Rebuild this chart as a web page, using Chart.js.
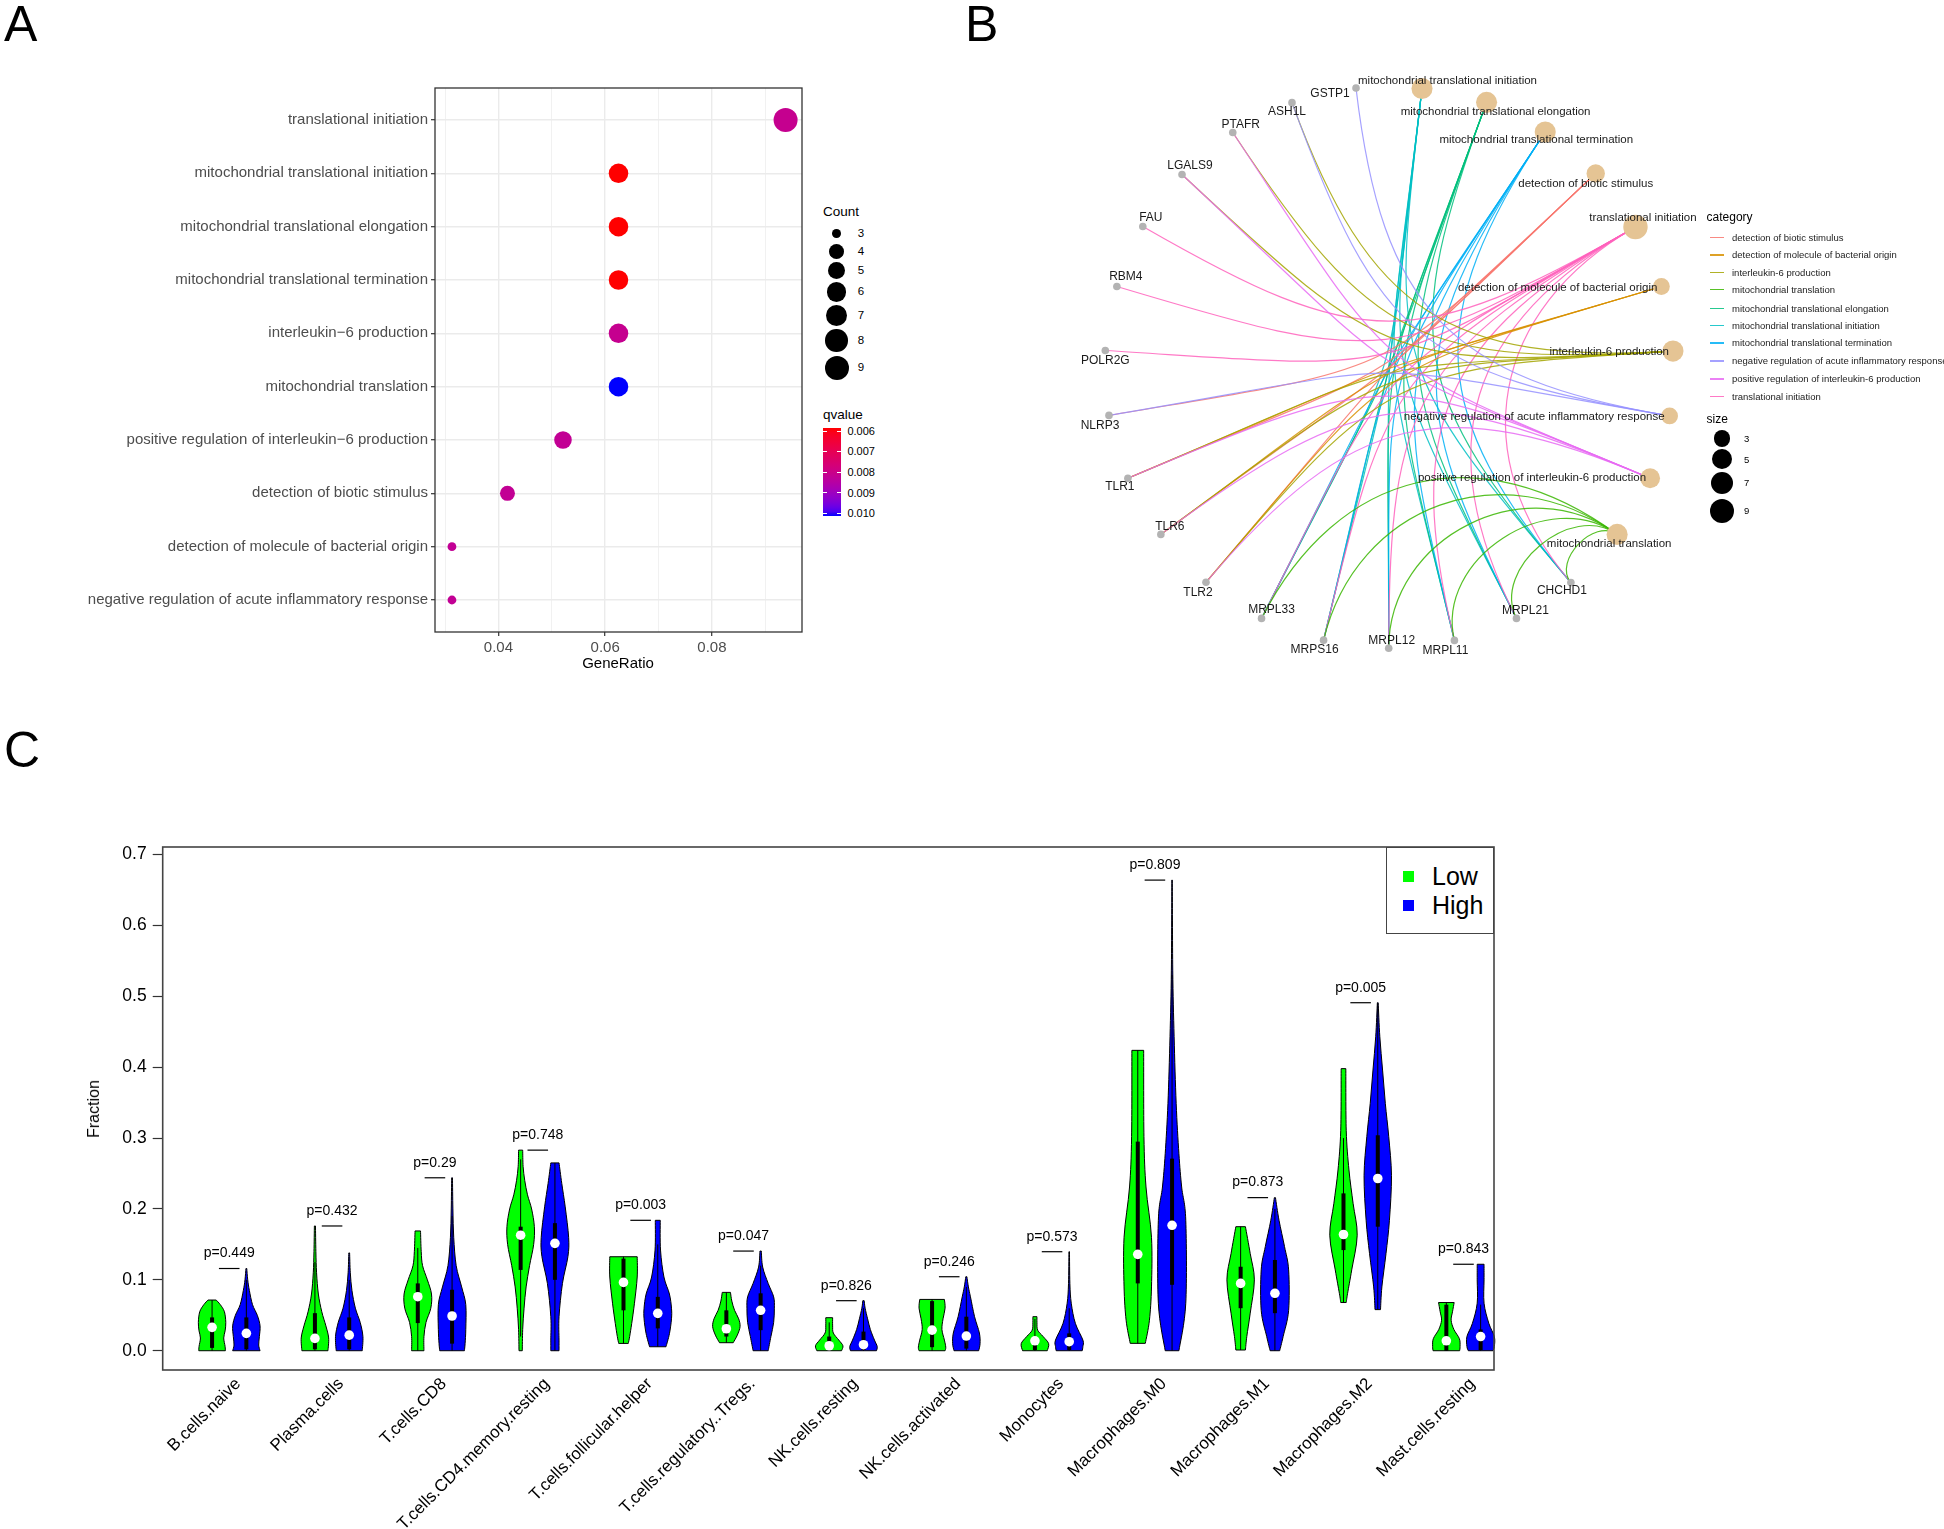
<!DOCTYPE html>
<html>
<head>
<meta charset="utf-8">
<title>GO enrichment and immune infiltration</title>
<script src="https://cdn.jsdelivr.net/npm/chart.js@4.4.1/dist/chart.umd.min.js"></script>
<style>
  html, body { margin: 0; padding: 0; background: #fff; }
  body { position: relative; width: 1944px; height: 1529px; overflow: hidden; font-family: "Liberation Sans", Arial, sans-serif; color: #000; }
  canvas { position: absolute; }
  .t { position: absolute; white-space: nowrap; line-height: 1; }
  .dot { position: absolute; border-radius: 50%; }
</style>
</head>
<body>
<canvas id="chartA" width="820" height="690" style="left:0;top:0"></canvas>
<canvas id="chartB" width="944" height="690" style="left:1000px;top:40px"></canvas>
<canvas id="chartC" width="1520" height="769" style="left:0;top:760px"></canvas>

<div class="t" style="left:4px;top:-1px;font-size:50px">A</div>
<div class="t" style="left:965px;top:-1px;font-size:50px">B</div>
<div class="t" style="left:4px;top:725px;font-size:50px">C</div>

<script>
// ---------- Panel A: GO dot plot ----------
const goTerms = [
  'translational initiation',
  'mitochondrial translational initiation',
  'mitochondrial translational elongation',
  'mitochondrial translational termination',
  'interleukin\u22126 production',
  'mitochondrial translation',
  'positive regulation of interleukin\u22126 production',
  'detection of biotic stimulus',
  'detection of molecule of bacterial origin',
  'negative regulation of acute inflammatory response'
];
const geneRatio = [0.0938, 0.0625, 0.0625, 0.0625, 0.0625, 0.0625, 0.0521, 0.0417, 0.0313, 0.0313];
const geneCount = [9, 6, 6, 6, 6, 6, 5, 4, 3, 3];
const qValue = [0.0081, 0.00584, 0.00584, 0.00584, 0.0081, 0.01012, 0.0082, 0.0082, 0.0082, 0.0082];
const ratioTicks = [0.03, 0.04, 0.05, 0.06, 0.07, 0.08, 0.09];
const countTicks = [3, 4, 5, 6, 7, 8, 9];
const qTicks = [0.006, 0.007, 0.008, 0.009, 0.010];

// ---------- Panel B: gene-concept network ----------
const genes = ['GSTP1', 'ASH1L', 'PTAFR', 'LGALS9', 'FAU', 'RBM4', 'POLR2G', 'NLRP3', 'TLR1', 'TLR6', 'TLR2',
  'MRPL33', 'MRPS16', 'MRPL12', 'MRPL11', 'MRPL21', 'CHCHD1'];
const geneX = [-0.117, -0.344, -0.554, -0.734, -0.873, -0.965, -1.006, -0.993, -0.926, -0.809, -0.649,
  -0.452, -0.232, -0.001, 0.232, 0.452, 0.645];
const geneY = [0.993, 0.941, 0.835, 0.686, 0.502, 0.289, 0.062, -0.168, -0.391, -0.590, -0.760,
  -0.888, -0.965, -0.994, -0.966, -0.888, -0.761];
const categories = [
  'mitochondrial translational initiation',
  'mitochondrial translational elongation',
  'mitochondrial translational termination',
  'detection of biotic stimulus',
  'translational initiation',
  'detection of molecule of bacterial origin',
  'interleukin-6 production',
  'negative regulation of acute inflammatory response',
  'positive regulation of interleukin-6 production',
  'mitochondrial translation'
];
const catX = [0.117, 0.346, 0.554, 0.733, 0.874, 0.966, 1.007, 0.995, 0.926, 0.809];
const catY = [0.991, 0.942, 0.837, 0.690, 0.500, 0.289, 0.060, -0.170, -0.391, -0.590];
const catGenes = [
  ['MRPL33', 'MRPS16', 'MRPL12', 'MRPL11', 'MRPL21', 'CHCHD1'],
  ['MRPL33', 'MRPS16', 'MRPL12', 'MRPL11', 'MRPL21', 'CHCHD1'],
  ['MRPL33', 'MRPS16', 'MRPL12', 'MRPL11', 'MRPL21', 'CHCHD1'],
  ['NLRP3', 'TLR1', 'TLR6', 'TLR2'],
  ['FAU', 'RBM4', 'POLR2G', 'MRPL33', 'MRPS16', 'MRPL12', 'MRPL11', 'MRPL21', 'CHCHD1'],
  ['TLR1', 'TLR6', 'TLR2'],
  ['ASH1L', 'PTAFR', 'LGALS9', 'TLR1', 'TLR6', 'TLR2'],
  ['GSTP1', 'ASH1L', 'NLRP3'],
  ['PTAFR', 'LGALS9', 'TLR1', 'TLR6', 'TLR2'],
  ['MRPL33', 'MRPS16', 'MRPL12', 'MRPL11', 'MRPL21', 'CHCHD1']
];
const sizeTicks = [3, 5, 7, 9];

// ---------- Panel C: violin plot ----------
const cellTypes = ['B.cells.naive', 'Plasma.cells', 'T.cells.CD8', 'T.cells.CD4.memory.resting',
  'T.cells.follicular.helper', 'T.cells.regulatory..Tregs.', 'NK.cells.resting', 'NK.cells.activated',
  'Monocytes', 'Macrophages.M0', 'Macrophages.M1', 'Macrophages.M2', 'Mast.cells.resting'];
const pValues = [0.449, 0.432, 0.29, 0.748, 0.003, 0.047, 0.826, 0.246, 0.573, 0.809, 0.873, 0.005, 0.843];
const fractionTicks = [0, 0.1, 0.2, 0.3, 0.4, 0.5, 0.6, 0.7];

// each shape: [value, relative half width] from top to bottom
const lowShape = [
  [[0.0715, 0.3], [0.065, 0.6], [0.055, 0.9], [0.04, 1.0], [0.028, 0.95], [0.018, 0.85], [0.006, 0.95], [0, 0.97]],
  [[0.176, 0.04], [0.14, 0.07], [0.11, 0.12], [0.08, 0.25], [0.055, 0.5], [0.035, 0.8], [0.018, 1.0], [0, 0.95]],
  [[0.169, 0.2], [0.14, 0.25], [0.12, 0.35], [0.1, 0.7], [0.08, 1.0], [0.06, 0.95], [0.04, 0.6], [0.02, 0.45], [0, 0.45]],
  [[0.283, 0.15], [0.26, 0.18], [0.24, 0.3], [0.22, 0.5], [0.2, 0.8], [0.175, 1.0], [0.15, 0.95], [0.12, 0.65], [0.09, 0.4], [0.06, 0.25], [0.03, 0.15], [0, 0.12]],
  [[0.1326, 1.0], [0.104, 1.0], [0.067, 0.8], [0.0386, 0.6], [0.02, 0.45], [0.0103, 0.35]],
  [[0.0823, 0.3], [0.07, 0.4], [0.057, 0.6], [0.045, 0.9], [0.034, 1.0], [0.022, 0.8], [0.0113, 0.5]],
  [[0.0466, 0.25], [0.035, 0.25], [0.025, 0.3], [0.015, 0.7], [0.007, 1.0], [0, 0.9]],
  [[0.0724, 0.9], [0.06, 0.95], [0.045, 0.8], [0.03, 0.72], [0.015, 0.9], [0.005, 1.0], [0, 0.95]],
  [[0.048, 0.15], [0.04, 0.15], [0.029, 0.2], [0.02, 0.6], [0.01, 1.0], [0, 0.9]],
  [[0.4238, 0.43], [0.302, 0.45], [0.231, 0.6], [0.16, 1.0], [0.09, 1.0], [0.043, 0.85], [0.0104, 0.55]],
  [[0.175, 0.35], [0.137, 0.7], [0.1, 1.0], [0.053, 0.7], [0.02, 0.45], [0.001, 0.35]],
  [[0.398, 0.17], [0.311, 0.2], [0.255, 0.4], [0.208, 0.7], [0.163, 1.0], [0.114, 0.6], [0.081, 0.3], [0.068, 0.2]],
  [[0.068, 0.57], [0.055, 0.45], [0.043, 0.35], [0.03, 0.55], [0.017, 0.95], [0.006, 1.0], [0, 0.97]]
];
const lowMedian = [0.033, 0.0174, 0.0762, 0.163, 0.0964, 0.031, 0.007, 0.029, 0.014, 0.136, 0.095, 0.164, 0.014];
const lowQ1 = [0.004, 0.002, 0.039, 0.114, 0.057, 0.02, 0, 0.005, 0.001, 0.095, 0.06, 0.142, 0];
const lowQ3 = [0.047, 0.053, 0.095, 0.175, 0.13, 0.057, 0.02, 0.07, 0.019, 0.295, 0.1185, 0.222, 0.065];
const lowWhiskerLo = [0, 0, 0, 0.02, 0.0103, 0.0113, 0, 0, 0, 0.0104, 0.001, 0.068, 0];
const lowWhiskerHi = [0.0715, 0.125, 0.145, 0.27, 0.1326, 0.0823, 0.04, 0.0724, 0.045, 0.4238, 0.175, 0.3, 0.068];

const highShape = [
  [[0.116, 0.03], [0.1, 0.1], [0.085, 0.22], [0.065, 0.45], [0.05, 0.8], [0.035, 1.0], [0.02, 0.95], [0.008, 0.9], [0, 1.0]],
  [[0.138, 0.03], [0.11, 0.08], [0.085, 0.2], [0.06, 0.45], [0.04, 0.8], [0.02, 1.0], [0, 0.95]],
  [[0.244, 0.03], [0.2, 0.06], [0.16, 0.12], [0.12, 0.3], [0.09, 0.7], [0.065, 1.0], [0.03, 1.0], [0.01, 0.95], [0, 0.9]],
  [[0.265, 0.3], [0.236, 0.5], [0.203, 0.75], [0.16, 1.0], [0.133, 0.95], [0.095, 0.55], [0.048, 0.3], [0.015, 0.3], [0, 0.3]],
  [[0.184, 0.18], [0.142, 0.2], [0.104, 0.45], [0.08, 0.85], [0.06, 1.0], [0.045, 1.0], [0.024, 0.85], [0.0056, 0.6]],
  [[0.1406, 0.05], [0.118, 0.15], [0.095, 0.55], [0.076, 0.95], [0.06, 1.0], [0.04, 0.95], [0.02, 0.75], [0, 0.55]],
  [[0.0706, 0.05], [0.06, 0.12], [0.045, 0.3], [0.03, 0.5], [0.015, 0.8], [0.006, 1.0], [0, 0.95]],
  [[0.1044, 0.04], [0.09, 0.15], [0.076, 0.3], [0.048, 0.6], [0.025, 0.95], [0.01, 1.0], [0, 0.9]],
  [[0.1397, 0.02], [0.095, 0.05], [0.067, 0.15], [0.0386, 0.45], [0.015, 1.0], [0.006, 1.0], [0, 0.95]],
  [[0.664, 0.02], [0.537, 0.05], [0.443, 0.15], [0.349, 0.3], [0.278, 0.5], [0.231, 0.7], [0.184, 1.0], [0.067, 1.0], [0, 0.5]],
  [[0.216, 0.04], [0.184, 0.3], [0.147, 0.7], [0.114, 1.0], [0.057, 1.0], [0.02, 0.6], [0, 0.35]],
  [[0.491, 0.03], [0.443, 0.15], [0.396, 0.35], [0.349, 0.55], [0.302, 0.8], [0.247, 1.0], [0.184, 0.85], [0.137, 0.6], [0.09, 0.3], [0.058, 0.2]],
  [[0.122, 0.25], [0.1, 0.25], [0.067, 0.25], [0.0386, 0.6], [0.02, 1.0], [0.006, 1.0], [0, 0.9]]
];
const highMedian = [0.0245, 0.022, 0.049, 0.1515, 0.0527, 0.057, 0.0085, 0.0207, 0.0127, 0.177, 0.081, 0.243, 0.02];
const highQ1 = [0.002, 0.002, 0.01, 0.1, 0.0315, 0.029, 0.001, 0.003, 0.001, 0.093, 0.053, 0.175, 0.001];
const highQ3 = [0.047, 0.047, 0.086, 0.18, 0.076, 0.081, 0.027, 0.048, 0.0245, 0.271, 0.128, 0.304, 0.03];
const highWhiskerLo = [0, 0, 0, 0, 0.0056, 0, 0, 0, 0, 0, 0, 0.058, 0];
const highWhiskerHi = [0.1, 0.1, 0.19, 0.265, 0.15, 0.12, 0.06, 0.09, 0.06, 0.53, 0.2, 0.49, 0.065];

// ---------- shared helpers ----------
const FONT = '"Liberation Sans", Arial, sans-serif';
Chart.defaults.font.family = FONT;
Chart.defaults.animation = false;

function hexToRgb(h) { return [1, 3, 5].map(i => parseInt(h.slice(i, i + 2), 16)); }
function toLab(rgb) {
  const [r, g, b] = rgb.map(c => { c /= 255; return c <= 0.04045 ? c / 12.92 : Math.pow((c + 0.055) / 1.055, 2.4); });
  const X = (0.4124 * r + 0.3576 * g + 0.1805 * b) / 0.95047;
  const Y = 0.2126 * r + 0.7152 * g + 0.0722 * b;
  const Z = (0.0193 * r + 0.1192 * g + 0.9505 * b) / 1.08883;
  const f = t => t > 0.008856 ? Math.cbrt(t) : 7.787 * t + 16 / 116;
  return [116 * f(Y) - 16, 500 * (f(X) - f(Y)), 200 * (f(Y) - f(Z))];
}
function fromLab([L, a, b]) {
  const fy = (L + 16) / 116, fx = fy + a / 500, fz = fy - b / 200;
  const inv = t => t * t * t > 0.008856 ? t * t * t : (t - 16 / 116) / 7.787;
  const X = 0.95047 * inv(fx), Y = inv(fy), Z = 1.08883 * inv(fz);
  const lin = [3.2406 * X - 1.5372 * Y - 0.4986 * Z, -0.9689 * X + 1.8758 * Y + 0.0415 * Z, 0.0557 * X - 0.2040 * Y + 1.0570 * Z];
  return lin.map(c => {
    c = c <= 0.0031308 ? 12.92 * c : 1.055 * Math.pow(c, 1 / 2.4) - 0.055;
    return Math.round(Math.max(0, Math.min(1, c)) * 255);
  });
}
function mixLab(c1, c2, t) {
  const a = toLab(hexToRgb(c1)), b = toLab(hexToRgb(c2));
  const [r, g, bl] = fromLab(a.map((v, i) => v + (b[i] - v) * t));
  return `rgb(${r},${g},${bl})`;
}

function frame(color, width) {
  return {
    id: 'frame',
    afterDraw(chart) {
      const a = chart.chartArea, ctx = chart.ctx;
      ctx.save();
      ctx.strokeStyle = color;
      ctx.lineWidth = width;
      ctx.strokeRect(a.left, a.top, a.right - a.left, a.bottom - a.top);
      ctx.restore();
    }
  };
}

function addText(txt, left, cy, size, opt = {}) {
  const d = document.createElement('div');
  d.className = 't';
  d.textContent = txt;
  d.style.left = left + 'px';
  d.style.top = (cy - 0.49 * size) + 'px';
  d.style.fontSize = size + 'px';
  if (opt.color) d.style.color = opt.color;
  if (opt.center) d.style.transform = 'translateX(-50%)';
  document.body.appendChild(d);
  return d;
}
function addDot(cx, cy, r, color) {
  const d = document.createElement('div');
  d.className = 'dot';
  Object.assign(d.style, { left: (cx - r) + 'px', top: (cy - r) + 'px', width: 2 * r + 'px', height: 2 * r + 'px', background: color });
  document.body.appendChild(d);
}

// ---------- Panel A ----------
const Q_LOW = '#FF0000', Q_HIGH = '#0000FF';
const qMin = Math.min(...qValue), qMax = Math.max(...qValue);
const qColor = q => mixLab(Q_LOW, Q_HIGH, (q - qMin) / (qMax - qMin));
const cMin = Math.min(...geneCount), cMax = Math.max(...geneCount);
const rA = c => 4.4 + 7.6 * Math.sqrt((c - cMin) / (cMax - cMin));
const isMajor = v => Math.round(v * 100) % 2 === 0;

new Chart(document.getElementById('chartA'), {
  type: 'scatter',
  data: {
    datasets: [{
      data: goTerms.map((t, i) => ({ x: geneRatio[i], y: i })),
      pointRadius: geneCount.map(rA),
      pointHoverRadius: geneCount.map(rA),
      pointBackgroundColor: qValue.map(qColor),
      pointBorderWidth: 0,
      showLine: false
    }]
  },
  options: {
    responsive: false,
    events: [],
    layout: { autoPadding: false, padding: { top: 88, right: 18, left: 0, bottom: 0 } },
    plugins: { legend: { display: false }, tooltip: { enabled: false } },
    scales: {
      x: {
        type: 'linear', min: 0.028125, max: 0.096875,
        afterBuildTicks: s => { s.ticks = ratioTicks.map(v => ({ value: v })); },
        afterFit: s => { s.height = 58; },
        ticks: { callback: v => isMajor(v) ? v.toFixed(2) : '', font: { size: 15 }, color: '#4D4D4D', padding: 3, maxRotation: 0, autoSkip: false },
        grid: {
          color: '#EBEBEB',
          lineWidth: c => isMajor(c.tick.value) ? 1.4 : 0.7,
          tickLength: 4, tickWidth: 1.2,
          tickColor: c => isMajor(c.tick.value) ? '#333333' : 'rgba(0,0,0,0)'
        },
        border: { display: false }
      },
      y: {
        type: 'linear', reverse: true, min: -0.6, max: goTerms.length - 0.4,
        afterBuildTicks: s => { s.ticks = goTerms.map((t, i) => ({ value: i })); },
        afterFit: s => { s.width = 435; },
        ticks: { callback: v => goTerms[v], font: { size: 15 }, color: '#4D4D4D', padding: 3, autoSkip: false },
        grid: { color: '#EBEBEB', lineWidth: 1.4, tickLength: 4, tickWidth: 1.2, tickColor: '#333333' },
        border: { display: false }
      }
    }
  },
  plugins: [frame('#333333', 1.3)]
});

addText('GeneRatio', 618, 662, 15, { center: true });
// Count legend
addText('Count', 823, 212, 13.5);
const countKeyY = [233.6, 251.4, 270.4, 292, 315.8, 340.7, 368];
countTicks.forEach((c, i) => {
  addDot(836.6, countKeyY[i], rA(c), '#000');
  addText(String(c), 857.7, countKeyY[i], 11.5);
});
// qvalue colourbar
addText('qvalue', 823, 415, 13.5);
(function () {
  const top = 427.7, h = 88.3, left = 823, w = 17.6;
  const bar = document.createElement('div');
  const stops = [];
  for (let i = 0; i <= 20; i++) stops.push(`${mixLab(Q_LOW, Q_HIGH, i / 20)} ${i * 5}%`);
  Object.assign(bar.style, { position: 'absolute', left: left + 'px', top: top + 'px', width: w + 'px', height: h + 'px', background: `linear-gradient(to bottom, ${stops.join(',')})` });
  document.body.appendChild(bar);
  qTicks.forEach(q => {
    const y = top + (q - qMin) / (qMax - qMin) * h;
    [left, left + w - 3.5].forEach(x => {
      const tk = document.createElement('div');
      Object.assign(tk.style, { position: 'absolute', left: x + 'px', top: (y - 0.5) + 'px', width: '3.5px', height: '1px', background: '#fff' });
      document.body.appendChild(tk);
    });
    addText(q.toFixed(3), 847.4, y, 11);
  });
})();

// ---------- Panel B ----------
const HUE = ['#F8766D', '#D89000', '#A3A500', '#39B600', '#00BF7D', '#00BFC4', '#00B0F6', '#9590FF', '#E76BF3', '#FF62BC'];
const legendOrder = [...categories].sort();
const catColor = name => HUE[legendOrder.indexOf(name)];
const rB = c => 3.2 + 3 * Math.sqrt(c);
const geneLabelShift = [[-26, 6], [-5, 9], [8, -8], [8, -9], [8, -8.5], [9, -10], [0, 10], [-9, 10], [-8, 8], [9, -8],
  [-8, 10], [10, -9], [-9, 10], [3, -8], [-9, 10], [9, -8], [-9, 8]];
const catLabelShift = [[25.5, -7.5, 'center'], [9, 9, 'center'], [-9, 8, 'center'], [-10, 10, 'center'], [7.5, -9, 'center'],
  [-4, 1, 'right'], [-4, 0.5, 'right'], [-5, 1, 'right'], [-4, 0, 'right'], [-8, 9.5, 'center']];

const edgePlugin = {
  id: 'edges',
  beforeDatasetsDraw(chart) {
    const { ctx, scales: { x, y } } = chart;
    ctx.save();
    ctx.lineWidth = 1.2;
    ctx.globalAlpha = 0.85;
    categories.forEach((c, ci) => {
      ctx.strokeStyle = catColor(c);
      catGenes[ci].forEach(g => {
        const gi = genes.indexOf(g);
        const x0 = geneX[gi], y0 = geneY[gi], x1 = catX[ci], y1 = catY[ci];
        let d = Math.abs(Math.atan2(y0, x0) - Math.atan2(y1, x1));
        if (d > Math.PI) d = 2 * Math.PI - d;
        const k = 1 - (4 / 3) * (d / Math.PI);
        ctx.beginPath();
        ctx.moveTo(x.getPixelForValue(x0), y.getPixelForValue(y0));
        ctx.bezierCurveTo(x.getPixelForValue(x0 * k), y.getPixelForValue(y0 * k),
          x.getPixelForValue(x1 * k), y.getPixelForValue(y1 * k),
          x.getPixelForValue(x1), y.getPixelForValue(y1));
        ctx.stroke();
      });
    });
    ctx.restore();
  }
};
const netLabelPlugin = {
  id: 'netLabels',
  afterDatasetsDraw(chart) {
    const { ctx, scales: { x, y } } = chart;
    ctx.save();
    ctx.fillStyle = '#1a1a1a';
    ctx.textBaseline = 'middle';
    ctx.font = '12px ' + FONT;
    ctx.textAlign = 'center';
    genes.forEach((g, i) => {
      ctx.fillText(g, x.getPixelForValue(geneX[i]) + geneLabelShift[i][0], y.getPixelForValue(geneY[i]) + geneLabelShift[i][1]);
    });
    ctx.font = '11.5px ' + FONT;
    categories.forEach((c, i) => {
      const [dx, dy, al] = catLabelShift[i];
      ctx.textAlign = al;
      ctx.fillText(c, x.getPixelForValue(catX[i]) + dx, y.getPixelForValue(catY[i]) + dy);
    });
    ctx.restore();
  }
};

new Chart(document.getElementById('chartB'), {
  type: 'scatter',
  data: {
    datasets: [
      { data: genes.map((g, i) => ({ x: geneX[i], y: geneY[i] })), pointRadius: 3.8, pointBackgroundColor: '#B3B3B3', pointBorderWidth: 0 },
      { data: categories.map((c, i) => ({ x: catX[i], y: catY[i] })), pointRadius: catGenes.map(g => rB(g.length)), pointBackgroundColor: '#E5C494', pointBorderWidth: 0 }
    ]
  },
  options: {
    responsive: false,
    events: [],
    layout: { autoPadding: false, padding: 0 },
    plugins: { legend: { display: false }, tooltip: { enabled: false } },
    scales: {
      x: { type: 'linear', display: false, min: -1.37943, max: 1.96809 },
      y: { type: 'linear', display: false, min: -1.28369, max: 1.16312 }
    }
  },
  plugins: [edgePlugin, netLabelPlugin]
});

addText('category', 1706.6, 217, 12);
const catKeyY = [237.5, 255, 272.3, 289.7, 308.3, 325.7, 343, 361, 379, 396.5];
legendOrder.forEach((c, i) => {
  const ln = document.createElement('div');
  Object.assign(ln.style, { position: 'absolute', left: '1710px', top: (catKeyY[i] - 0.75) + 'px', width: '14px', height: '1.5px', background: HUE[i], opacity: 0.85 });
  document.body.appendChild(ln);
  addText(c, 1732, catKeyY[i], 9.5, { color: '#222' });
});
addText('size', 1706.6, 419, 12);
const sizeKeyY = [438.8, 459.4, 483.1, 510.8];
sizeTicks.forEach((s, i) => {
  addDot(1722, sizeKeyY[i], rB(s), '#000');
  addText(String(s), 1744, sizeKeyY[i], 9.5);
});

// ---------- Panel C ----------
const LOW_COL = '#00FF00', HIGH_COL = '#0000FF';
const VIOLIN_HALF = 0.4;
const lowPos = cellTypes.map((c, i) => 3 * i + 1);
const highPos = cellTypes.map((c, i) => 3 * i + 2);

function smoothTo(ctx, pts) {
  for (let i = 0; i < pts.length - 1; i++) {
    const p0 = pts[i - 1] || pts[i], p1 = pts[i], p2 = pts[i + 1], p3 = pts[i + 2] || pts[i + 1];
    ctx.bezierCurveTo(p1[0] + (p2[0] - p0[0]) / 6, p1[1] + (p2[1] - p0[1]) / 6,
      p2[0] - (p3[0] - p1[0]) / 6, p2[1] - (p3[1] - p1[1]) / 6, p2[0], p2[1]);
  }
}
function drawViolin(ctx, xs, ys, pos, shape, color) {
  const cx = xs.getPixelForValue(pos);
  const hw = xs.getPixelForValue(pos + VIOLIN_HALF) - cx;
  const right = shape.map(([v, w]) => [cx + w * hw, ys.getPixelForValue(v)]);
  const left = shape.map(([v, w]) => [cx - w * hw, ys.getPixelForValue(v)]).reverse();
  ctx.beginPath();
  ctx.moveTo(left[left.length - 1][0], left[left.length - 1][1]);
  ctx.lineTo(right[0][0], right[0][1]);
  smoothTo(ctx, right);
  ctx.lineTo(left[0][0], left[0][1]);
  smoothTo(ctx, left);
  ctx.closePath();
  ctx.fillStyle = color;
  ctx.fill();
  ctx.lineWidth = 1;
  ctx.strokeStyle = '#000';
  ctx.stroke();
}
function drawBox(ctx, xs, ys, pos, q1, q3, lo, hi) {
  const cx = xs.getPixelForValue(pos);
  ctx.strokeStyle = '#000';
  ctx.lineWidth = 1;
  ctx.beginPath();
  ctx.moveTo(cx, ys.getPixelForValue(hi));
  ctx.lineTo(cx, ys.getPixelForValue(lo));
  ctx.stroke();
  const t = ys.getPixelForValue(q3), b = ys.getPixelForValue(q1);
  ctx.fillStyle = '#000';
  ctx.fillRect(cx - 2, t, 4, b - t);
}

const violinPlugin = {
  id: 'violins',
  beforeDatasetsDraw(chart) {
    const { ctx, scales: { x, y } } = chart;
    ctx.save();
    cellTypes.forEach((c, i) => {
      drawViolin(ctx, x, y, lowPos[i], lowShape[i], LOW_COL);
      drawBox(ctx, x, y, lowPos[i], lowQ1[i], lowQ3[i], lowWhiskerLo[i], lowWhiskerHi[i]);
      drawViolin(ctx, x, y, highPos[i], highShape[i], HIGH_COL);
      drawBox(ctx, x, y, highPos[i], highQ1[i], highQ3[i], highWhiskerLo[i], highWhiskerHi[i]);
    });
    ctx.restore();
  },
  afterDatasetsDraw(chart) {
    const { ctx, scales: { x, y } } = chart;
    ctx.save();
    ctx.strokeStyle = '#000';
    ctx.fillStyle = '#000';
    ctx.lineWidth = 1.2;
    ctx.font = '14px ' + FONT;
    ctx.textAlign = 'center';
    ctx.textBaseline = 'middle';
    cellTypes.forEach((c, i) => {
      const mid = (lowPos[i] + highPos[i]) / 2;
      const top = Math.max(lowShape[i][0][0], highShape[i][0][0]);
      const py = y.getPixelForValue(top);
      ctx.beginPath();
      ctx.moveTo(x.getPixelForValue(mid - 0.3), py);
      ctx.lineTo(x.getPixelForValue(mid + 0.3), py);
      ctx.stroke();
      ctx.fillText('p=' + pValues[i], x.getPixelForValue(mid), py - 15);
    });
    ctx.restore();
  }
};

new Chart(document.getElementById('chartC'), {
  type: 'scatter',
  data: {
    datasets: [{
      data: cellTypes.map((c, i) => ({ x: lowPos[i], y: lowMedian[i] }))
        .concat(cellTypes.map((c, i) => ({ x: highPos[i], y: highMedian[i] }))),
      pointRadius: 4.8,
      pointBackgroundColor: '#FFFFFF',
      pointBorderWidth: 0
    }]
  },
  options: {
    responsive: false,
    events: [],
    layout: { autoPadding: false, padding: { top: 87, right: 26, left: 0, bottom: 0 } },
    plugins: { legend: { display: false }, tooltip: { enabled: false } },
    scales: {
      x: {
        type: 'linear', min: -0.44, max: 38.39,
        afterBuildTicks: s => { s.ticks = cellTypes.map((c, i) => ({ value: 3 * i + 1.5 })); },
        afterFit: s => { s.height = 159; },
        ticks: { callback: (v, i) => cellTypes[i], font: { size: 17 }, color: '#000', minRotation: 45, maxRotation: 45, autoSkip: false, padding: 4, labelOffset: 9 },
        grid: { display: false, drawTicks: false, tickLength: 0 },
        border: { display: false }
      },
      y: {
        type: 'linear', min: -0.0272, max: 0.7107,
        afterBuildTicks: s => { s.ticks = fractionTicks.map(v => ({ value: v })); },
        afterFit: s => { s.width = 162.7; },
        ticks: { callback: v => v.toFixed(1), font: { size: 17.5 }, color: '#000', padding: 6 },
        grid: { drawOnChartArea: false, tickLength: 10, tickWidth: 1.2, tickColor: '#333333' },
        border: { display: false }
      }
    }
  },
  plugins: [violinPlugin, frame('#444444', 1.6)]
});

(function () {
  const f = addText('Fraction', 93.5, 1109, 16);
  f.style.top = '1109px';
  f.style.transform = 'translate(-50%, -50%) rotate(-90deg)';
  const box = document.createElement('div');
  Object.assign(box.style, { position: 'absolute', left: '1386px', top: '847px', width: '108px', height: '87px', boxSizing: 'border-box', border: '1.6px solid #444', background: '#fff' });
  document.body.appendChild(box);
  [[LOW_COL, 'Low', 876], [HIGH_COL, 'High', 905.7]].forEach(([col, lab, cy]) => {
    const sq = document.createElement('div');
    Object.assign(sq.style, { position: 'absolute', left: '1403px', top: (cy - 5.5) + 'px', width: '11px', height: '11px', background: col });
    document.body.appendChild(sq);
    addText(lab, 1432, cy, 25);
  });
})();
</script>
</body>
</html>
